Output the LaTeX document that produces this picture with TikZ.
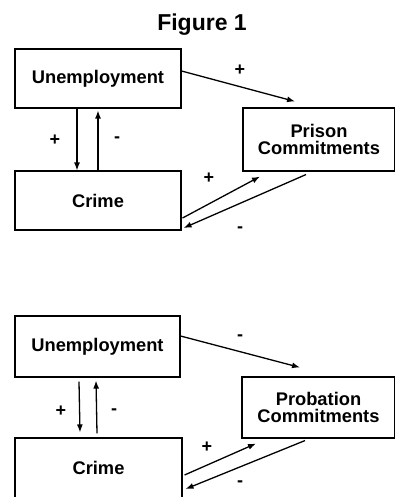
\documentclass[tikz,border=0pt]{standalone}
\usepackage{fontspec}
\setmainfont{Liberation Sans}
\usetikzlibrary{arrows.meta}
\tikzset{
  box/.style={draw, line width=1.1pt, inner sep=0pt, align=center,
    font=\fontsize{18.3}{17.5}\selectfont\bfseries},
  arr/.style={line width=1.3pt, -{Latex[length=8pt,width=6pt]}},
  sign/.style={font=\fontsize{18}{18}\selectfont\bfseries, inner sep=0pt},
}
\begin{document}
\begin{tikzpicture}[x=1pt,y=-1pt]
\useasboundingbox (0,0) rectangle (395,497);
\clip (0,0) rectangle (395,497);
\node[font=\fontsize{23}{23}\selectfont\bfseries] (title) at (202,25) {Figure 1};
% top diagram
\node[box, minimum width=166pt, minimum height=59pt] (u1) at (98,78.5) {Unemployment};
\node[box, minimum width=152pt, minimum height=63pt] (p1) at (319,139.5) {Prison\\Commitments};
\node[box, minimum width=166pt, minimum height=59pt] (c1) at (98,200.5) {Crime};
\draw[arr] ([xshift=-21pt]u1.south) -- ([xshift=-21pt]c1.north);
\draw[arr] (c1.north) -- ([yshift=-2pt]u1.south);
\draw[arr] ([yshift=7.5pt]u1.east) -- ([shift={(-24pt,6pt)}]p1.north);
\draw[arr] ([shift={(1pt,-17.5pt)}]c1.east) -- ([shift={(-59pt,-5pt)}]p1.south);
\draw[arr] ([shift={(-13pt,-3pt)}]p1.south) -- ([shift={(2pt,-27.5pt)}]c1.east);
\node[sign] (s1) at (240,70) {+};
\node[sign] (s2) at (55,140) {+};
\node[sign] (s3) at (117,140) {-};
\node[sign] (s4) at (209,178) {+};
\node[sign] (s5) at (240,230) {-};
% bottom diagram
\node[box, minimum width=165pt, minimum height=61pt] (u2) at (97.5,346.5) {Unemployment};
\node[box, minimum width=153pt, minimum height=61pt] (p2) at (318.5,407.5) {Probation\\Commitments};
\node[box, minimum width=167pt, minimum height=60pt] (c2) at (98.5,468) {Crime};
\draw[arr] ([shift={(-18.5pt,-4pt)}]u2.south) -- ([shift={(-18.5pt,5pt)}]c2.north);
\draw[arr] ([shift={(-1.5pt,4pt)}]c2.north) -- ([shift={(-1.5pt,-3pt)}]u2.south);
\draw[arr] ([yshift=10.5pt]u2.east) -- ([shift={(-18.5pt,9pt)}]p2.north);
\draw[arr] ([shift={(2pt,-7pt)}]c2.east) -- ([shift={(-62.5pt,-5pt)}]p2.south);
\draw[arr] ([shift={(-13.5pt,-2pt)}]p2.south) -- ([shift={(3pt,-21pt)}]c2.east);
\node[sign] (t1) at (240,338) {-};
\node[sign] (t2) at (61,411) {+};
\node[sign] (t3) at (114,412) {-};
\node[sign] (t4) at (207,447) {+};
\node[sign] (t5) at (240,484) {-};
\end{tikzpicture}
\end{document}
